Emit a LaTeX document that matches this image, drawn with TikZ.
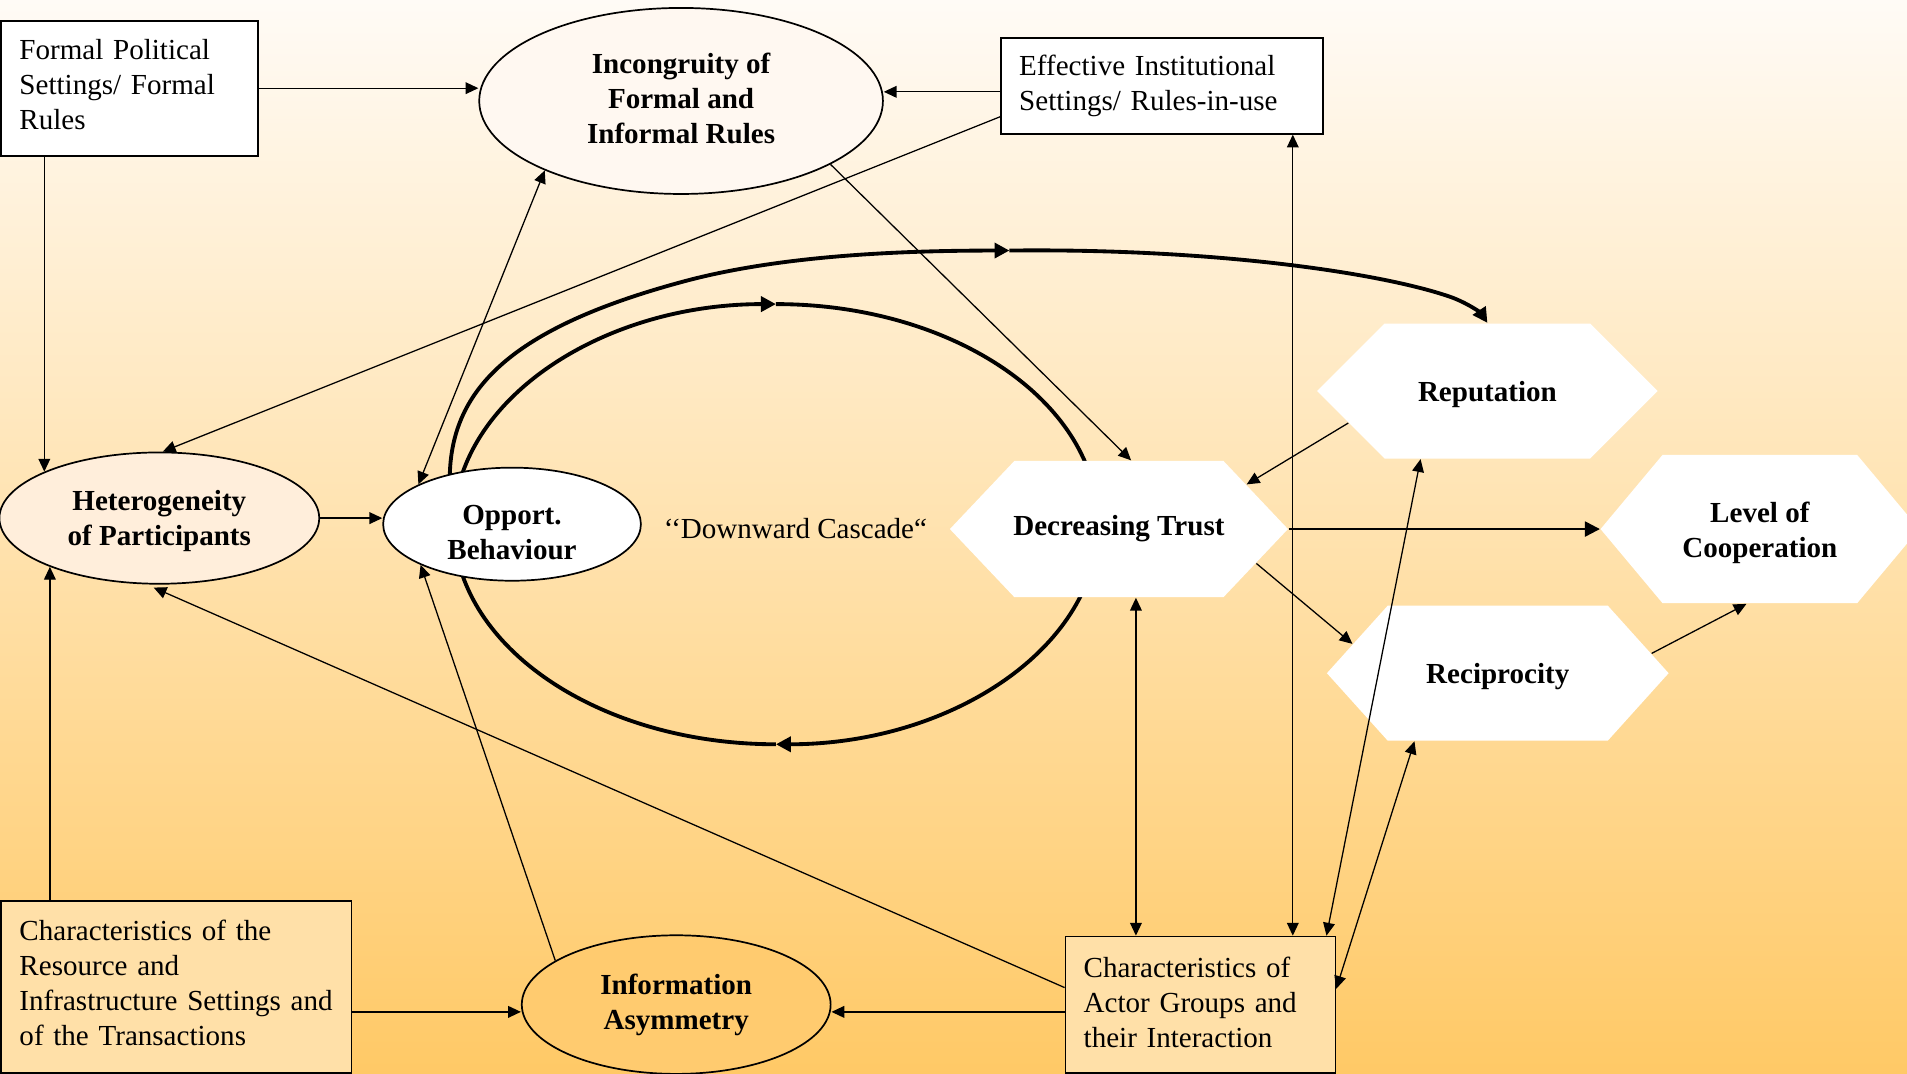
\documentclass[tikz,border=0pt]{standalone}
\usepackage{fontspec}
\setmainfont{Liberation Serif}
\usetikzlibrary{shapes.geometric,arrows.meta,calc}
\definecolor{bgtop}{HTML}{FFFBF6}
\definecolor{bgbottom}{HTML}{FFC966}
\definecolor{peach}{HTML}{FFEEDB}
\definecolor{sand}{HTML}{FFE0A8}
\definecolor{amber}{HTML}{FFCB6F}
\definecolor{cream}{HTML}{FFF8F1}
\newcommand{\figfont}{\fontsize{13.6pt}{16.5pt}\selectfont}
\begin{document}
\begin{tikzpicture}[x=0.02cm,y=0.02cm,>={Triangle[length=6pt,width=5.5pt]},line width=0.6pt,font=\figfont,
  box/.style={draw,rectangle,line width=0.8pt,align=left,inner xsep=0.3cm,inner ysep=0pt},
  oval/.style={draw,ellipse,line width=0.8pt,align=center,inner sep=0pt,font=\figfont\bfseries},
  hex/.style={rectangle,align=center,inner sep=0pt,font=\figfont\bfseries,
    path picture={\fill[white] (path picture bounding box.west) -- ([xshift=#1]path picture bounding box.north west)
      -- ([xshift=-#1]path picture bounding box.north east) -- (path picture bounding box.east)
      -- ([xshift=-#1]path picture bounding box.south east) -- ([xshift=#1]path picture bounding box.south west) -- cycle;}},
  cascadeline/.style={line width=1.8pt,>={Triangle[length=7pt,width=7pt]}}]
\useasboundingbox (0,-883) rectangle (1568,0);
\clip (0,-883) rectangle (1568,0);
\shade[top color=bgtop,bottom color=bgbottom] (0,-883) rectangle (1568,0);
\coordinate (cc) at (638,-431);
\draw[cascadeline,->] (cc) ++(175:5.3cm and 3.62cm) arc[start angle=175,end angle=90,x radius=5.3cm,y radius=3.62cm];
\draw[cascadeline] (cc) ++(90:5.3cm and 3.62cm) arc[start angle=90,end angle=5,x radius=5.3cm,y radius=3.62cm];
\draw[cascadeline,->] (cc) ++(-5:5.3cm and 3.62cm) arc[start angle=-5,end angle=-90,x radius=5.3cm,y radius=3.62cm];
\draw[cascadeline] (cc) ++(-90:5.3cm and 3.62cm) arc[start angle=-90,end angle=-175,x radius=5.3cm,y radius=3.62cm];
\node[box,fill=white,minimum width=4.22cm,minimum height=2.22cm,text width=3.62cm] (fr) at (106.5,-72.5) {Formal Political\\Settings/ Formal\\Rules\rule[-3.4pt]{0pt}{3.4pt}};
\node[oval,fill=cream,minimum width=6.64cm,minimum height=3.06cm] (ir) at (560,-83) {Incongruity of\\Formal and\\Informal Rules\rule[-2.3pt]{0pt}{2.3pt}};
\node[box,fill=white,minimum width=5.3cm,minimum height=1.58cm,text width=4.7cm] (ei) at (955.5,-70.5) {Effective Institutional\\Settings/ Rules-in-use};
\node[oval,fill=peach,minimum width=5.26cm,minimum height=2.16cm] (hp) at (131,-426) {\rule{0pt}{12.1pt}Heterogeneity\\of Participants};
\node[oval,fill=white,minimum width=4.24cm,minimum height=1.86cm] (ob) at (421,-431) {\rule{0pt}{16.6pt}Opport.\\Behaviour};
\node (dc) at (654,-435) {‘‘Downward Cascade“};
\node[hex=1.06cm,minimum width=5.56cm,minimum height=2.24cm] (dt) at (920,-435) {Decreasing Trust};
\node[hex=1.11cm,minimum width=5.6cm,minimum height=2.22cm] (rp) at (1223,-321.5) {\rule{0pt}{12.5pt}Reputation};
\node[hex=1.02cm,minimum width=5.24cm,minimum height=2.44cm] (lc) at (1447,-435) {\rule{0pt}{13.3pt}Level of\\Cooperation};
\node[hex=1.0cm,minimum width=5.62cm,minimum height=2.22cm] (rc) at (1231.5,-553.5) {\rule{0pt}{12.5pt}Reciprocity};
\node[box,fill=sand,minimum width=5.76cm,minimum height=2.82cm,text width=5.16cm] (rs) at (145,-811.5) {Characteristics of the\\Resource and\\Infrastructure Settings and\\of the Transactions\rule[-4pt]{0pt}{4pt}};
\node[oval,fill=amber,minimum width=5.08cm,minimum height=2.28cm] (ia) at (556,-826) {Information\\Asymmetry};
\node[box,fill=sand,minimum width=4.44cm,minimum height=2.24cm,text width=3.84cm] (ag) at (987,-826) {Characteristics of\\Actor Groups and\\their Interaction\rule[-2.3pt]{0pt}{2.3pt}};
\draw[->] (fr.east) -- (fr.east -| ir.west);
\draw[->] ([yshift=-0.1cm]ei.west) -- ([yshift=-0.1cm]ei.west -| ir.east);
\draw[->] (hp.158 |- fr.south) -- (hp.158);
\draw[->] ([yshift=-0.51cm]ei.west) -- (hp.87);
\draw[->] (ir.-23) -- ([xshift=0.2cm]dt.north);
\draw[<->] (ob.157) -- (ir.207);
\draw[->] (hp.east) -- (hp.east -| ob.west);
\coordinate (bend) at (830,-206);
\draw[cascadeline,->] (ob.141) .. controls (372,-320) and (420,-270) .. (560,-232) .. controls (640,-210) and (740,-206) .. (bend);
\draw[cascadeline,->] (bend) .. controls (1000,-204) and (1140,-225) .. (1195,-245) .. controls (1210,-251) and (1218,-258) .. (rp.north);
\draw[->] ($(rp.west)!0.47!([xshift=1.11cm]rp.south west)$) -- ($([xshift=-1.06cm]dt.north east)!0.35!(dt.east)$);
\draw[line width=1.1pt,->,>={Triangle[length=7pt,width=7pt]}] (dt.east) -- (lc.west);
\draw[->] ($(dt.east)!0.5!([xshift=-1.06cm]dt.south east)$) -- ($(rc.west)!0.43!([xshift=1cm]rc.north west)$);
\draw[->] ($(rc.east)!0.29!([xshift=-1cm]rc.north east)$) -- ([xshift=-0.22cm]lc.south);
\draw[<->] ([xshift=0.28cm]dt.south) -- ([xshift=0.28cm]dt.south |- ag.north);
\draw[<->] ([xshift=2.15cm]ei.south) -- ([xshift=2.15cm]ei.south |- ag.north);
\draw[<->] ([xshift=-1.1cm]rp.south) -- ([xshift=-0.16cm]ag.north east);
\draw[<->] ([xshift=-1.37cm]rc.south) -- ([yshift=0.26cm]ag.east);
\draw[->,shorten >=0.13cm] ([yshift=0.28cm]ag.west) -- (hp.259);
\draw[->] ([yshift=-0.12cm]ag.west) -- ([yshift=-0.12cm]ag.west -| ia.east);
\draw[->] ([yshift=-0.41cm]rs.east) -- ([yshift=-0.41cm]rs.east -| ia.west);
\draw[->] (hp.204 |- rs.north) -- (hp.204);
\draw[->] (ia.160) -- (ob.204);
\end{tikzpicture}
\end{document}
